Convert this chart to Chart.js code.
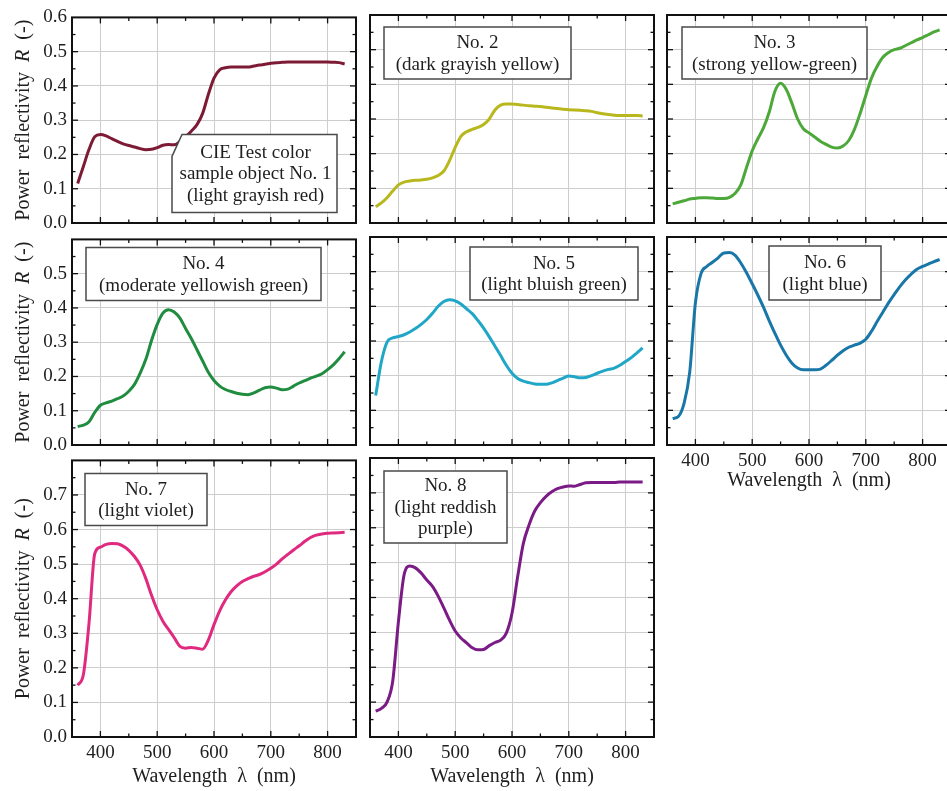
<!DOCTYPE html>
<html lang="en">
<head>
<meta charset="UTF-8">
<title>CIE test color samples - power reflectivity</title>
<script src="https://cdn.jsdelivr.net/npm/chart.js"></script>
<style>
    html, body {
        margin: 0;
        padding: 0;
        background: #fff;
        overflow: hidden;
    }
    body {
        width: 947px;
        height: 791px;
        position: relative;
    }
    canvas {
        position: absolute;
    }
</style>
</head>
<body>

<script>
    // wavelength (nm), every 10 nm
    const wavelength = [360, 370, 380, 390, 400, 410, 420, 430, 440, 450,
        460, 470, 480, 490, 500, 510, 520, 530, 540, 550,
        560, 570, 580, 590, 600, 610, 620, 630, 640, 650,
        660, 670, 680, 690, 700, 710, 720, 730, 740, 750,
        760, 770, 780, 790, 800, 810, 820, 830];

    // power reflectivity R of the eight CIE test color samples
    const sample1 = [0.115, 0.165, 0.215, 0.252, 0.258, 0.254, 0.246, 0.238, 0.231, 0.226,
        0.222, 0.217, 0.214, 0.215, 0.220, 0.227, 0.229, 0.228, 0.238, 0.252,
        0.268, 0.287, 0.320, 0.375, 0.423, 0.447, 0.453, 0.455, 0.455, 0.455,
        0.455, 0.458, 0.461, 0.463, 0.466, 0.468, 0.469, 0.470, 0.470, 0.470,
        0.470, 0.470, 0.470, 0.470, 0.470, 0.469, 0.468, 0.464];
    const sample2 = [0.047, 0.058, 0.073, 0.092, 0.110, 0.118, 0.121, 0.123, 0.124, 0.126,
        0.130, 0.137, 0.150, 0.180, 0.218, 0.250, 0.263, 0.270, 0.276, 0.284,
        0.300, 0.326, 0.340, 0.343, 0.343, 0.342, 0.340, 0.338, 0.337, 0.336,
        0.334, 0.332, 0.330, 0.328, 0.327, 0.326, 0.325, 0.324, 0.322, 0.318,
        0.315, 0.313, 0.311, 0.310, 0.310, 0.310, 0.310, 0.309];
    const sample3 = [0.055, 0.060, 0.064, 0.069, 0.071, 0.073, 0.073, 0.072, 0.071, 0.071,
        0.074, 0.086, 0.110, 0.160, 0.208, 0.243, 0.275, 0.320, 0.380, 0.403,
        0.385, 0.345, 0.300, 0.272, 0.260, 0.248, 0.236, 0.227, 0.219, 0.216,
        0.222, 0.238, 0.270, 0.316, 0.368, 0.418, 0.452, 0.478, 0.492, 0.500,
        0.504, 0.512, 0.520, 0.528, 0.535, 0.543, 0.551, 0.557];
    const sample4 = [0.054, 0.058, 0.068, 0.095, 0.116, 0.123, 0.128, 0.135, 0.143, 0.157,
        0.177, 0.210, 0.250, 0.305, 0.352, 0.385, 0.395, 0.388, 0.370, 0.340,
        0.311, 0.278, 0.245, 0.212, 0.188, 0.172, 0.162, 0.156, 0.151, 0.148,
        0.147, 0.152, 0.160, 0.167, 0.169, 0.166, 0.161, 0.163, 0.172, 0.181,
        0.188, 0.195, 0.201, 0.208, 0.220, 0.234, 0.252, 0.272];
    const sample5 = [0.143, 0.240, 0.297, 0.309, 0.313, 0.318, 0.326, 0.336, 0.348, 0.362,
        0.380, 0.400, 0.414, 0.419, 0.416, 0.407, 0.393, 0.379, 0.359, 0.337,
        0.312, 0.285, 0.258, 0.230, 0.207, 0.192, 0.184, 0.180, 0.176, 0.175,
        0.175, 0.179, 0.186, 0.193, 0.199, 0.197, 0.194, 0.195, 0.200, 0.207,
        0.213, 0.218, 0.222, 0.230, 0.241, 0.252, 0.266, 0.280];
    const sample6 = [0.076, 0.082, 0.120, 0.210, 0.410, 0.495, 0.515, 0.527, 0.540, 0.554,
        0.555, 0.547, 0.525, 0.497, 0.465, 0.432, 0.397, 0.358, 0.322, 0.288,
        0.259, 0.236, 0.222, 0.217, 0.217, 0.217, 0.219, 0.230, 0.244, 0.259,
        0.272, 0.282, 0.288, 0.294, 0.305, 0.328, 0.356, 0.383, 0.410, 0.434,
        0.457, 0.477, 0.493, 0.507, 0.515, 0.522, 0.529, 0.535];
    const sample7 = [0.150, 0.180, 0.330, 0.530, 0.549, 0.557, 0.560, 0.559, 0.552, 0.540,
        0.522, 0.497, 0.458, 0.410, 0.368, 0.335, 0.311, 0.287, 0.262, 0.257,
        0.259, 0.257, 0.254, 0.280, 0.325, 0.365, 0.396, 0.420, 0.437, 0.450,
        0.458, 0.465, 0.470, 0.478, 0.488, 0.500, 0.515, 0.528, 0.541, 0.553,
        0.566, 0.577, 0.584, 0.587, 0.589, 0.590, 0.591, 0.592];
    const sample8 = [0.074, 0.082, 0.100, 0.160, 0.330, 0.465, 0.490, 0.485, 0.470, 0.450,
        0.432, 0.404, 0.370, 0.335, 0.304, 0.284, 0.270, 0.256, 0.250, 0.251,
        0.262, 0.271, 0.278, 0.298, 0.355, 0.460, 0.555, 0.608, 0.648, 0.672,
        0.690, 0.703, 0.712, 0.717, 0.720, 0.719, 0.724, 0.729, 0.730, 0.730,
        0.730, 0.730, 0.730, 0.731, 0.731, 0.731, 0.731, 0.731];

    // panel captions
    const label1 = ['CIE Test color', 'sample object No. 1', '(light grayish red)'];
    const label2 = ['No. 2', '(dark grayish yellow)'];
    const label3 = ['No. 3', '(strong yellow-green)'];
    const label4 = ['No. 4', '(moderate yellowish green)'];
    const label5 = ['No. 5', '(light bluish green)'];
    const label6 = ['No. 6', '(light blue)'];
    const label7 = ['No. 7', '(light violet)'];
    const label8 = ['No. 8', '(light reddish', 'purple)'];

    // tick labels
    const xTicks = [400, 500, 600, 700, 800];
    const yTicksRow1 = [0.0, 0.1, 0.2, 0.3, 0.4, 0.5, 0.6];
    const yTicksRow2 = [0.0, 0.1, 0.2, 0.3, 0.4, 0.5];
    const yTicksRow3 = [0.0, 0.1, 0.2, 0.3, 0.4, 0.5, 0.6, 0.7];

    const xTitle = 'Wavelength  \u03bb  (nm)';
    const yTitle = [['Power  reflectivity  ', 'normal'], ['R', 'italic'], ['  (-)', 'normal']];

    // layout
    const SERIF = '"Liberation Serif", "Times New Roman", serif';
    const colX = [72, 370, 667];
    const rowY = [15, 237, 458];
    const rowH = [208, 208, 279];
    const rowMax = [0.6, 0.6, 0.8];
    const rowTicks = [yTicksRow1, yTicksRow2, yTicksRow3];
    const PLOT_W = 284;
    const PAD_L = 72, PAD_T = 14, PAD_R = 6, PAD_B = 56;

    const panels = [
        { values: sample1, color: '#7d1a35', text: label1, row: 0, col: 0, box: { x: 100, y: 117, w: 165, h: 78, cut: true } },
        { values: sample2, color: '#b8b81e', text: label2, row: 0, col: 1, box: { x: 14, y: 12, w: 187, h: 52 } },
        { values: sample3, color: '#4da83a', text: label3, row: 0, col: 2, box: { x: 15, y: 12, w: 185, h: 52 } },
        { values: sample4, color: '#1f8c3f', text: label4, row: 1, col: 0, box: { x: 14, y: 8, w: 235, h: 53 } },
        { values: sample5, color: '#20a6c6', text: label5, row: 1, col: 1, box: { x: 100, y: 10, w: 168, h: 53 } },
        { values: sample6, color: '#1877a8', text: label6, row: 1, col: 2, box: { x: 102, y: 9, w: 112, h: 54 }, xAxis: true, titlePad: 8 },
        { values: sample7, color: '#e02a80', text: label7, row: 2, col: 0, box: { x: 13, y: 13, w: 122, h: 52 }, xAxis: true, titlePad: 4 },
        { values: sample8, color: '#7b1b86', text: label8, row: 2, col: 1, box: { x: 14, y: 13, w: 123, h: 72 }, xAxis: true, titlePad: 4 }
    ];

    function line(ctx, x1, y1, x2, y2) {
        ctx.beginPath();
        ctx.moveTo(x1, y1);
        ctx.lineTo(x2, y2);
        ctx.stroke();
    }

    function decor(p) {
        return {
            id: 'decor',
            afterDatasetsDraw(chart) {
                // caption box
                const ctx = chart.ctx;
                const { left, top } = chart.chartArea;
                const b = p.box;
                const x0 = left + b.x, y0 = top + b.y;
                ctx.save();
                ctx.beginPath();
                if (b.cut) {
                    ctx.moveTo(x0, y0 + 22);
                    ctx.lineTo(x0 + 10, y0);
                } else {
                    ctx.moveTo(x0, y0);
                }
                ctx.lineTo(x0 + b.w, y0);
                ctx.lineTo(x0 + b.w, y0 + b.h);
                ctx.lineTo(x0, y0 + b.h);
                ctx.closePath();
                ctx.fillStyle = '#fff';
                ctx.fill();
                ctx.strokeStyle = '#4a4a4a';
                ctx.lineWidth = 1.5;
                ctx.stroke();
                ctx.fillStyle = '#1e1e1e';
                ctx.font = '19px ' + SERIF;
                ctx.textAlign = 'center';
                ctx.textBaseline = 'middle';
                const lh = 21.5;
                const cy = y0 + b.h / 2 - (p.text.length - 1) * lh / 2;
                p.text.forEach((t, k) => ctx.fillText(t, x0 + b.w / 2 + (b.cut ? 1 : 0), cy + k * lh + 1));
                ctx.restore();
            },
            afterDraw(chart) {
                const ctx = chart.ctx;
                const { left, top, right, bottom } = chart.chartArea;
                const xs = chart.scales.x, ys = chart.scales.y;
                ctx.save();
                ctx.strokeStyle = '#111';
                ctx.lineWidth = 1.3;
                // inward ticks on all four sides
                for (let v = 400; v <= 800; v += 50) {
                    const px = xs.getPixelForValue(v);
                    const len = v % 100 === 0 ? 6 : 3.5;
                    line(ctx, px, bottom, px, bottom - len);
                    line(ctx, px, top, px, top + len);
                }
                const n = Math.round(rowMax[p.row] / 0.05);
                for (let k = 1; k < n; k++) {
                    const py = ys.getPixelForValue(k * 0.05);
                    const len = k % 2 === 0 ? 6 : 3.5;
                    line(ctx, left, py, left + len, py);
                    line(ctx, right, py, right - len, py);
                }
                ctx.lineWidth = 2;
                ctx.strokeRect(left, top, right - left, bottom - top);

                // y axis title with italic R
                if (p.col === 0) {
                    ctx.fillStyle = '#1e1e1e';
                    ctx.textBaseline = 'middle';
                    ctx.textAlign = 'left';
                    let total = 0;
                    yTitle.forEach(([t, st]) => {
                        ctx.font = st + ' 20px ' + SERIF;
                        total += ctx.measureText(t).width;
                    });
                    ctx.translate(24, (top + bottom) / 2);
                    ctx.rotate(-Math.PI / 2);
                    let x = -total / 2;
                    yTitle.forEach(([t, st]) => {
                        ctx.font = st + ' 20px ' + SERIF;
                        ctx.fillText(t, x, 0);
                        x += ctx.measureText(t).width;
                    });
                }
                ctx.restore();
            }
        };
    }

    panels.forEach(p => {
        const c = document.createElement('canvas');
        const w = PLOT_W + PAD_L + PAD_R;
        const h = rowH[p.row] + PAD_T + PAD_B;
        c.width = w;
        c.height = h;
        c.style.width = w + 'px';
        c.style.height = h + 'px';
        c.style.left = (colX[p.col] - PAD_L) + 'px';
        c.style.top = (rowY[p.row] - PAD_T) + 'px';
        document.body.appendChild(c);

        new Chart(c.getContext('2d'), {
            type: 'line',
            data: {
                datasets: [{
                    data: wavelength.map((x, k) => ({ x: x, y: p.values[k] })),
                    borderColor: p.color,
                    borderWidth: 3,
                    pointRadius: 0,
                    fill: false,
                    cubicInterpolationMode: 'monotone'
                }]
            },
            options: {
                responsive: false,
                animation: false,
                events: [],
                layout: { padding: { top: PAD_T, right: PAD_R, left: 0, bottom: 0 } },
                plugins: {
                    legend: { display: false },
                    tooltip: { enabled: false }
                },
                scales: {
                    x: {
                        type: 'linear',
                        min: 350,
                        max: 850,
                        afterBuildTicks: s => { s.ticks = xTicks.map(v => ({ value: v })); },
                        afterFit: s => { s.height = PAD_B; },
                        grid: { color: '#cdcdcd', lineWidth: 1, drawTicks: false },
                        border: { display: false },
                        ticks: {
                            display: !!p.xAxis,
                            padding: 5,
                            color: '#1e1e1e',
                            font: { family: SERIF, size: 19 },
                            callback: v => String(v)
                        },
                        title: {
                            display: !!p.xAxis,
                            text: xTitle,
                            color: '#1e1e1e',
                            font: { family: SERIF, size: 20 },
                            padding: { top: 0, bottom: p.titlePad || 4 }
                        }
                    },
                    y: {
                        type: 'linear',
                        min: 0,
                        max: rowMax[p.row],
                        afterBuildTicks: s => { s.ticks = rowTicks[p.row].map(v => ({ value: v })); },
                        afterFit: s => { s.width = PAD_L; },
                        grid: { color: '#cdcdcd', lineWidth: 1, drawTicks: false },
                        border: { display: false },
                        ticks: {
                            display: p.col === 0,
                            padding: 5,
                            color: '#1e1e1e',
                            font: { family: SERIF, size: 19 },
                            callback: v => v.toFixed(1)
                        }
                    }
                }
            },
            plugins: [decor(p)]
        });
    });
</script>

</body>
</html>
